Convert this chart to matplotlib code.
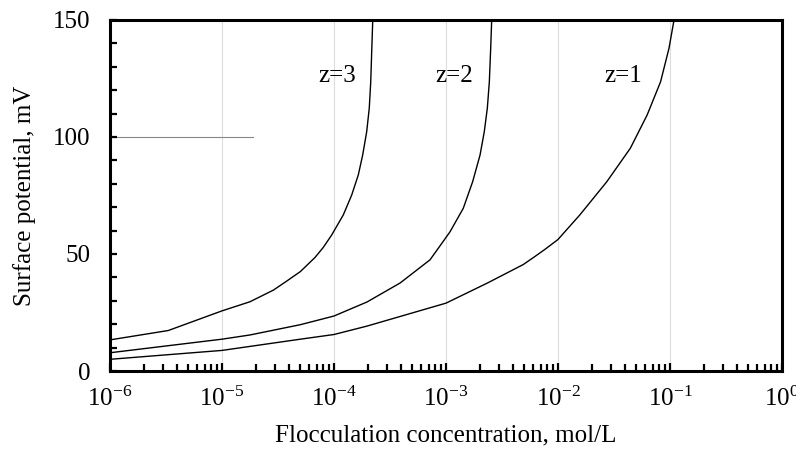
import numpy as np
import matplotlib
matplotlib.use('Agg')
import matplotlib.pyplot as plt
from matplotlib.ticker import LogLocator, FixedLocator, MultipleLocator, NullFormatter

plt.rcParams['font.family'] = 'Liberation Serif'
plt.rcParams['mathtext.fontset'] = 'custom'
plt.rcParams['mathtext.rm'] = 'Liberation Serif'
plt.rcParams['mathtext.it'] = 'Liberation Serif:italic'
plt.rcParams['axes.unicode_minus'] = False

# log10 of concentration (mol/L) and surface potential (mV)
z3_logc = [-6.0, -5.48, -5.0, -4.75, -4.54, -4.42, -4.30, -4.17, -4.096, -4.021, -3.917,
           -3.842, -3.783, -3.744, -3.708, -3.685, -3.672, -3.663, -3.654]
z3_psi = [13.3, 17.3, 25.7, 29.6, 34.6, 38.5, 42.5, 48.5, 52.8, 58.1, 66.7,
          75.2, 83.8, 92.3, 102.3, 112.4, 123.6, 137.0, 150.0]

z2_logc = [-6.0, -5.0, -4.75, -4.30, -4.0, -3.705, -3.41, -3.143, -3.083, -2.964, -2.846,
           -2.762, -2.696, -2.658, -2.631, -2.613, -2.601, -2.592]
z2_psi = [7.8, 13.6, 15.4, 19.8, 23.5, 29.5, 37.6, 47.5, 51.5, 59.5, 69.5,
          80.9, 92.3, 102.3, 112.3, 123.6, 137.9, 150.0]

z1_logc = [-6.0, -5.0, -4.30, -4.0, -3.705, -3.0, -2.63, -2.31, -2.21, -2.116, -2.0,
           -1.805, -1.564, -1.354, -1.204, -1.084, -1.009, -0.964]
z1_psi = [5.0, 8.8, 13.6, 15.6, 19.2, 29.0, 37.6, 45.5, 48.8, 52.0, 56.2,
          66.7, 80.9, 95.2, 109.4, 123.6, 137.9, 150.0]

labels = ['z=3', 'z=2', 'z=1']
label_logc = [-3.97, -2.93, -1.42]
label_psi = 126

fig = plt.figure(figsize=(7.96, 4.49), dpi=100)
ax = fig.add_axes([0.1382, 0.1737, 0.8442, 0.7818])

for lc, psi in [(z3_logc, z3_psi), (z2_logc, z2_psi), (z1_logc, z1_psi)]:
    ax.plot(10.0 ** np.array(lc), psi, color='black', lw=1.0)

for lab, lc in zip(labels, label_logc):
    ax.text(10.0 ** lc, label_psi, lab, ha='center', va='center', fontsize=18)

ax.set_xscale('log')
ax.set_xlim(1e-6, 1)
ax.set_ylim(0, 150)

for d in range(-5, 0):
    ax.axvline(10.0 ** d, color='#dcdcdc', lw=0.8, zorder=0)
ax.axhline(100, xmin=0, xmax=0.213, color='#888888', lw=0.8, zorder=0)

ax.xaxis.set_major_locator(LogLocator(base=10, numticks=10))
ax.xaxis.set_minor_locator(LogLocator(base=10, subs=np.arange(2, 10), numticks=10))
ax.xaxis.set_minor_formatter(NullFormatter())
ax.yaxis.set_major_locator(FixedLocator([0, 50, 100, 150]))
ax.yaxis.set_minor_locator(MultipleLocator(10))

ax.tick_params(axis='both', which='both', direction='in', width=1.6, labelsize=18)
ax.tick_params(axis='x', which='major', length=6, pad=11)
ax.tick_params(axis='x', which='minor', length=5)
ax.tick_params(axis='y', which='both', length=5, pad=14)

for s in ax.spines.values():
    s.set_linewidth(2.2)

ax.set_xlabel('Flocculation concentration, mol/L', fontsize=18, labelpad=10)
ax.set_ylabel('Surface potential, mV', fontsize=18, labelpad=12)

fig.savefig('out.png', dpi=100)
